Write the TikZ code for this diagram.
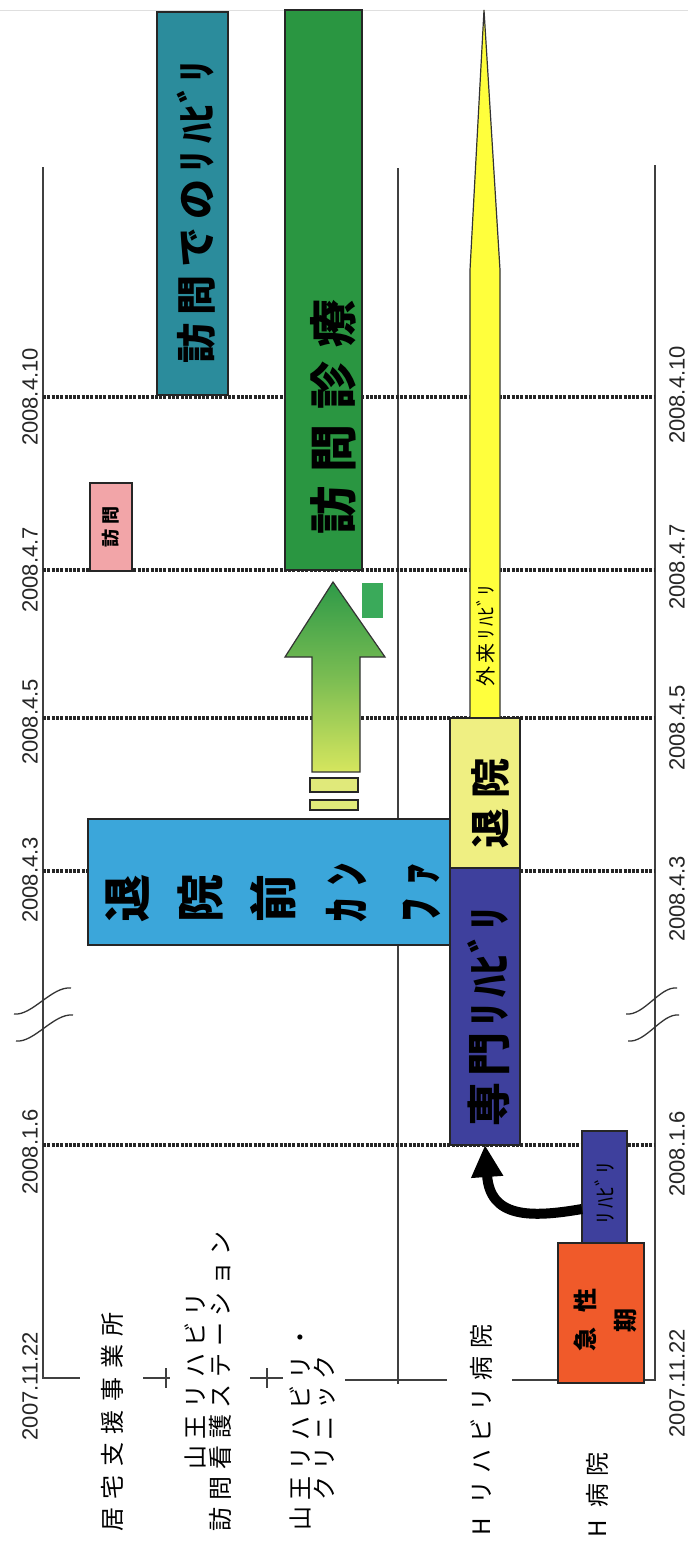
\documentclass[tikz,border=0pt]{standalone}
\usepackage{fontspec}
\setmainfont{Liberation Sans}
\newfontfamily\jp{Noto Sans CJK JP}
\usetikzlibrary{arrows.meta}
\definecolor{cTeal}{HTML}{2B8C9C}
\definecolor{cGreen}{HTML}{2A9641}
\definecolor{cSky}{HTML}{3BA6DA}
\definecolor{cNavy}{HTML}{3E409D}
\definecolor{cPale}{HTML}{EFEF82}
\definecolor{cYel}{HTML}{FFFF3C}
\definecolor{cRed}{HTML}{F05A2A}
\definecolor{cPink}{HTML}{F2A5A8}
\definecolor{cSq}{HTML}{3AAA5A}
\definecolor{cArrTop}{HTML}{2E9A48}
\definecolor{cArrBot}{HTML}{D6E65E}
\definecolor{cBar}{HTML}{E0E97A}
\newcommand\jfs[3]{\jp\fontsize{#1}{#2}\selectfont\addfontfeature{LetterSpace=#3}}
\newcommand\hbi[1]{{\addfontfeature{LetterSpace=0}ﾋﾞ}\kern#1em}
\tikzset{
  axisline/.style={draw=black!75, line width=1.4pt},
  dateline/.style={draw=black!85, line width=4pt, dash pattern=on 3pt off 1.3pt},
  bar/.style={draw=black!85, line width=1.3pt, inner sep=0pt, outer sep=0pt},
  rot/.style={rotate=90, inner sep=0pt, text=black},
  datelbl/.style={rotate=90, inner sep=0pt, font=\fontsize{22}{24}\selectfont, text=black!85},
  breakmark/.style={draw=black!80, line width=1.3pt},
}
\begin{document}
\begin{tikzpicture}[x=1pt,y=-1pt]
\useasboundingbox[fill=white] (0,0) rectangle (688,1544);
\draw[gray!25, line width=0.8pt] (0,10) -- (688,10);

% axes
\draw[axisline] (43,167) -- (43,1378) -- (80,1378);
\draw[axisline] (398,168) -- (398,1384);
\draw[axisline] (655,165) -- (655,1380) -- (512,1380);
\draw[axisline] (143,1378) -- (170,1378);
\draw[axisline] (166,1368) -- (166,1388);
\draw[axisline] (250,1378) -- (283,1378);
\draw[axisline] (267,1368) -- (267,1388);
\draw[axisline] (345,1380) -- (447,1380);

% date lines
\foreach \yy in {397,570,718,871,1145}
  \draw[dateline] (43,\yy) -- (655,\yy);

% break marks
\draw[breakmark] (14,1014) .. controls (32,1016) and (52,986) .. (71,988);
\draw[breakmark] (16,1041) .. controls (34,1043) and (54,1013) .. (73,1015);
\draw[breakmark] (626,1014) .. controls (644,1016) and (660,986) .. (677,988);
\draw[breakmark] (628,1041) .. controls (646,1043) and (662,1013) .. (679,1015);

% date labels
\foreach \t/\yl/\yr in {2008.4.10/397/395, 2008.4.7/570/567, 2008.4.5/722/728, 2008.4.3/880/899, 2008.1.6/1152/1154, 2007.11.22/1386/1383}{
  \node[datelbl] at (30,\yl) {\t};
  \node[datelbl] at (677,\yr) {\t};
}

% row labels
\node[rot, font=\jfs{24}{25}{36}] (r1) at (112,1422) {居宅支援事業所};
\node[rot, align=center, font=\jfs{24}{25}{28}] (r2) at (208,1381) {山王リハビリ\\訪問看護ステーション};
\node[rot, align=center, font=\jfs{24}{24}{26}] (r3) at (313,1428) {山王リハビリ・\\クリニック};
\node[rot, font=\jfs{24}{25}{30}] (r4) at (481,1430) {H リハビリ病院};
\node[rot, font=\jfs{24}{25}{30}] (r5) at (597,1495) {H 病院};

% yellow outpatient arrow
\filldraw[fill=cYel, draw=black!80, line width=1.2pt] (470,722) -- (470,270) -- (484,10) -- (500,270) -- (500,722) -- cycle;
\node[rot, font=\jfs{20}{22}{18}] (gairai) at (486,636) {外来ﾘﾊ\hbi{0.05}ﾘ};

% green transition arrow
\shadedraw[top color=cArrTop, bottom color=cArrBot, middle color=cArrTop!55!cArrBot, draw=black!80, line width=1.2pt]
  (312,772) -- (312,657) -- (285,657) -- (333,582) -- (385,657) -- (360,657) -- (360,772) -- cycle;
\node[bar, fill=cBar, minimum width=48pt, minimum height=14pt] (bar1) at (334,785) {};
\node[bar, fill=cBar, minimum width=48pt, minimum height=10pt] (bar2) at (334,805) {};
\node[fill=cSq, inner sep=0pt, minimum width=21pt, minimum height=35pt] (sq) at (372.5,600.5) {};

% boxes
\node[bar, fill=cPink, minimum width=42pt, minimum height=88pt] (houmon) at (111,527) {};
\node[rot, font=\bfseries\jfs{18}{20}{25}] at (houmon.center) {訪問};

\node[bar, fill=cTeal, minimum width=71pt, minimum height=383pt] (hreha) at (192.5,203.5) {};
\node[rot, font=\bfseries\jfs{40}{44}{20}] at (196,212) {訪問でのﾘﾊ\hbi{0.05}ﾘ};

\node[bar, fill=cGreen, minimum width=77pt, minimum height=560pt] (shinryo) at (323.5,290) {};
\node[rot, font=\bfseries\jfs{48}{50}{30}] at (333,417) {訪問診療};

\node[bar, fill=cSky, minimum width=362pt, minimum height=126pt] (conf) at (269,882) {};
\node[rot, anchor=west, align=left, font=\bfseries\jfs{48}{73}{25}] at (273,923) {退\\院\\前\\ｶﾝ\\ﾌｧ};

\node[bar, fill=cPale, minimum width=70pt, minimum height=150pt] (taiin) at (485,793) {};
\node[rot, font=\bfseries\jfs{40}{44}{25}] at (490,803) {退院};

\node[bar, fill=cNavy, minimum width=70pt, minimum height=277pt] (senmon) at (485,1006.5) {};
\node[rot, font=\bfseries\jfs{44}{46}{14}] at (489,1017) {専門ﾘﾊ\hbi{0.04}ﾘ};

\node[bar, fill=cRed, minimum width=86pt, minimum height=140pt] (kyusei) at (601,1313) {};
\node[bar, fill=cNavy, minimum width=45pt, minimum height=112pt] (reha) at (604.5,1187) {};
\node[rot, font=\jfs{22}{24}{18}] at (605,1193) {ﾘﾊ\hbi{0.05}ﾘ};
\node[rot, align=center, font=\bfseries\jfs{24}{40}{65}] at (605,1320) {急性\\期};

% curved arrow
\draw[black, line width=10pt, -{Triangle[length=32pt,width=30pt]}]
  ([yshift=-22pt]reha.west) .. controls (530,1218) and (490,1218) .. (senmon.south);
\end{tikzpicture}
\end{document}
